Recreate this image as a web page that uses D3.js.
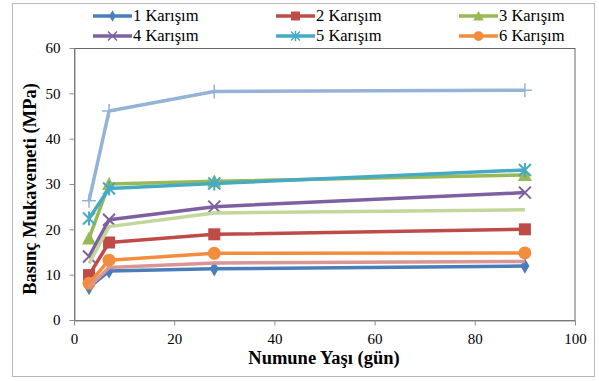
<!DOCTYPE html>
<html>
<head>
<meta charset="utf-8">
<script src="https://cdn.jsdelivr.net/npm/d3@7"></script>
<style>
  body { margin: 0; background: #fff; }
</style>
</head>
<body>
<script>
// gün
var days = [3, 7, 28, 90];
var names = ["1 Karışım", "2 Karışım", "3 Karışım", "4 Karışım", "5 Karışım", "6 Karışım", "", "", ""];
var s1 = [7.2, 10.8, 11.3, 11.9];
var s2 = [9.9, 17.1, 18.9, 20.0];
var s3 = [18.0, 30.0, 30.6, 32.0];
var s4 = [14.0, 22.1, 25.0, 28.1];
var s5 = [22.4, 29.0, 30.1, 33.1];
var s6 = [8.1, 13.2, 14.7, 14.8];
var s7 = [26.3, 46.1, 50.4, 50.7];
var s8 = [7.3, 11.6, 12.6, 12.9];
var s9 = [12.5, 20.6, 23.6, 24.3];
var xTicks = [0, 20, 40, 60, 80, 100];
var yTicks = [0, 10, 20, 30, 40, 50, 60];

var colors = ["#4a7ebb", "#be4b48", "#98b954", "#7d60a0", "#46aac5", "#f38d3d", "#95b3d7", "#d99694", "#c3d69b"];
var markers = ["diamond", "square", "triangle", "x", "star", "circle", "plus", null, null];
var series = [s1, s2, s3, s4, s5, s6, s7, s8, s9];
var FONT = "'Liberation Serif'";

var W = 599, H = 381;
var svg = d3.select("body").append("svg").attr("width", W).attr("height", H);

svg.append("rect").attr("x", 12.5).attr("y", 3.5).attr("width", 582).attr("height", 373)
    .attr("fill", "#fff").attr("stroke", "#b8b8b8");

var x = d3.scaleLinear().domain([0, 100]).range([74, 575]);
var y = d3.scaleLinear().domain([0, 60]).range([320, 48]);

// plot area border
svg.append("rect").attr("x", 74.5).attr("y", 48.5).attr("width", 500.5).attr("height", 272)
    .attr("fill", "none").attr("stroke", "#666");

var xAxis = svg.append("g").attr("transform", "translate(0,320.5)")
    .call(d3.axisBottom(x).tickValues(xTicks).tickSize(5).tickSizeOuter(0));
var yAxis = svg.append("g").attr("transform", "translate(74.5,0)")
    .call(d3.axisLeft(y).tickValues(yTicks).tickSize(5).tickSizeOuter(0));
[xAxis, yAxis].forEach(function(a) {
  a.attr("font-family", null).attr("font-size", null);
  a.select(".domain").attr("stroke", "#8c8c8c");
  a.selectAll(".tick line").attr("stroke", "#8c8c8c");
  a.selectAll("text").style("font-family", FONT).style("font-size", "15px").attr("fill", "#000");
});
xAxis.selectAll("text").attr("dy", "1.05em");
yAxis.selectAll("text").attr("x", -14);

svg.append("text").attr("x", 324).attr("y", 364).attr("text-anchor", "middle")
    .style("font-family", FONT).style("font-size", "18.5px").style("font-weight", "bold")
    .text("Numune Yaşı (gün)");
svg.append("text").attr("transform", "translate(36,189) rotate(-90)").attr("text-anchor", "middle")
    .style("font-family", FONT).style("font-size", "18.5px").style("font-weight", "bold")
    .text("Basınç Mukavemeti (MPa)");

function drawMarker(g, type, color) {
  if (type === "diamond") {
    g.append("path").attr("d", d3.symbol(d3.symbolDiamond, 70)()).attr("fill", color);
  } else if (type === "square") {
    g.append("rect").attr("x", -6).attr("y", -6).attr("width", 12).attr("height", 12).attr("fill", color);
  } else if (type === "triangle") {
    g.append("path").attr("d", "M0,-7L7,6L-7,6Z").attr("fill", color);
  } else if (type === "circle") {
    g.append("circle").attr("r", 6.5).attr("fill", color);
  } else if (type === "x") {
    g.append("path").attr("d", "M-6,-6L6,6M-6,6L6,-6").attr("stroke", color).attr("stroke-width", 2);
  } else if (type === "star") {
    g.append("path").attr("d", "M-6,-6L6,6M-6,6L6,-6M0,-7L0,7").attr("stroke", color).attr("stroke-width", 2);
  } else if (type === "plus") {
    g.append("path").attr("d", "M-7,0L7,0M0,-7L0,7").attr("stroke", color).attr("stroke-width", 1.5);
  }
}

var line = d3.line().x(function(d, i) { return x(days[i]); }).y(function(d) { return y(d); });

series.forEach(function(s, k) {
  var g = svg.append("g");
  g.append("path").datum(s).attr("d", line).attr("fill", "none")
    .attr("stroke", colors[k]).attr("stroke-width", 3.5).attr("stroke-linejoin", "round");
  if (markers[k]) {
    s.forEach(function(v, i) {
      drawMarker(g.append("g").attr("transform", "translate(" + x(days[i]) + "," + y(v) + ")"), markers[k], colors[k]);
    });
  }
});

// legend
var legX = [93, 276, 459], legY = [16, 36];
names.slice(0, 6).forEach(function(n, k) {
  var lx = legX[k % 3], ly = legY[Math.floor(k / 3)];
  var g = svg.append("g");
  g.append("line").attr("x1", lx).attr("x2", lx + 39).attr("y1", ly).attr("y2", ly)
    .attr("stroke", colors[k]).attr("stroke-width", 3.5);
  drawMarker(g.append("g").attr("transform", "translate(" + (lx + 19.5) + "," + ly + ") scale(0.75)"), markers[k], colors[k]);
  g.append("text").attr("x", lx + 40).attr("y", ly + 5)
    .style("font-family", FONT).style("font-size", "16.5px").text(n);
});
</script>
</body>
</html>
